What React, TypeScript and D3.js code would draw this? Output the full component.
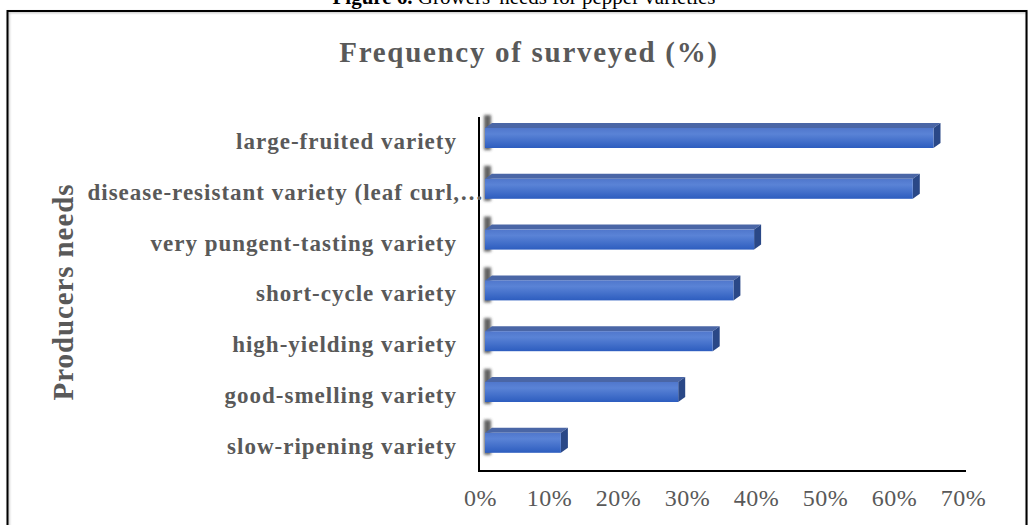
import React from "react";
import * as d3 from "d3";

const categories = [
  "large-fruited variety ",
  "disease-resistant variety (leaf curl,…",
  "very pungent-tasting variety ",
  "short-cycle variety  ",
  "high-yielding variety ",
  "good-smelling variety  ",
  "slow-ripening variety ",
];
const values = [0.65, 0.62, 0.39, 0.36, 0.33, 0.28, 0.11];
const ticks = [0, 0.1, 0.2, 0.3, 0.4, 0.5, 0.6, 0.7];
const titleText = "Frequency of surveyed (%)";
const yAxisTitle = "Producers needs";

const W = 1028;
const H = 525;
const GRAY = "#595959";
const SERIF = "'Liberation Serif', 'Times New Roman', serif";

export default function App() {
  const x = d3.scaleLinear().domain([0, 0.7]).range([485, 968]);
  const y = d3
    .scaleBand<string>()
    .domain(categories)
    .range([112.6, 468.2])
    .padding(0);
  const barH = 20;
  const dx = 7;
  const dy = -5;

  return (
    <svg
      width={W}
      height={H}
      style={{ position: "absolute", left: 0, top: 0, background: "#fff" }}
    >
      <defs>
        <linearGradient id="front" x1="0" y1="0" x2="0" y2="1">
          <stop offset="0" stopColor="#5077cc" />
          <stop offset="0.3" stopColor="#5a83d6" />
          <stop offset="1" stopColor="#2d5dbf" />
        </linearGradient>
        <filter id="blur" x="-50%" y="-50%" width="200%" height="200%">
          <feGaussianBlur stdDeviation="1.6" />
        </filter>
        <filter id="shadow" x="-5%" y="-5%" width="110%" height="110%">
          <feGaussianBlur stdDeviation="0.8" />
        </filter>
      </defs>

      {/* caption cut off at the top */}
      <text
        x={524}
        y={4}
        textAnchor="middle"
        fontFamily={SERIF}
        fontSize={21}
        fill="#000"
      >
        <tspan fontWeight="bold">Figure 6.</tspan> Growers' needs for pepper varieties
      </text>

      {/* border */}
      <rect
        x={8.5}
        y={12}
        width={1019}
        height={530}
        fill="none"
        stroke="#bbb"
        strokeWidth={2}
        filter="url(#shadow)"
      />
      <rect x={7.5} y={11} width={1019} height={530} fill="none" stroke="#000" strokeWidth={2} />

      {/* title */}
      <text
        x={529}
        y={62}
        textAnchor="middle"
        fontFamily={SERIF}
        fontSize={29}
        fontWeight="bold"
        letterSpacing={1.7}
        fill={GRAY}
      >
        {titleText}
      </text>

      {/* y axis title */}
      <text
        transform={`translate(73, 292) rotate(-90)`}
        textAnchor="middle"
        fontFamily={SERIF}
        fontSize={29}
        fontWeight="bold"
        letterSpacing={0.9}
        fill={GRAY}
      >
        {yAxisTitle}
      </text>

      {/* bars */}
      {categories.map((c, i) => {
        const cy = (y(c) as number) + y.bandwidth() / 2;
        const top = cy - barH / 2;
        const x0 = x(0);
        const x1 = x(values[i]);
        return (
          <g key={c}>
            <rect
              x={x0 - 1}
              y={top - 13}
              width={7}
              height={barH + 15}
              fill="#3a3a3a"
              opacity={0.8}
              filter="url(#blur)"
            />
            <polygon
              points={`${x0},${top} ${x0 + dx},${top + dy} ${x1 + dx},${top + dy} ${x1},${top}`}
              fill="#4a66a6"
            />
            <polygon
              points={`${x1},${top} ${x1 + dx},${top + dy} ${x1 + dx},${top + barH + dy} ${x1},${top + barH}`}
              fill="#2a4887"
            />
            <rect x={x0} y={top} width={x1 - x0} height={barH} fill="url(#front)" />
          </g>
        );
      })}

      {/* axes */}
      <line x1={479} y1={117} x2={479} y2={472} stroke="#000" strokeWidth={2} />
      <line x1={478} y1={471} x2={966} y2={471} stroke="#000" strokeWidth={2} />

      {/* category labels */}
      {categories.map((c, i) => {
        const cy = (y(c) as number) + y.bandwidth() / 2;
        const isLong = i === 1;
        return (
          <text
            key={c}
            x={isLong ? 484 : 457}
            y={cy + 11}
            textAnchor="end"
            fontFamily={SERIF}
            fontSize={23}
            fontWeight="bold"
            letterSpacing={1.0}
            fill={GRAY}
            style={{ whiteSpace: "pre" }}
          >
            {isLong ? c : c.trimEnd()}
          </text>
        );
      })}

      {/* tick labels */}
      {ticks.map((t) => (
        <text
          key={t}
          x={x(t) - 4.4}
          y={506}
          textAnchor="middle"
          fontFamily={SERIF}
          fontSize={24}
          letterSpacing={0.5}
          fill={GRAY}
        >
          {d3.format(".0%")(t)}
        </text>
      ))}
    </svg>
  );
}
